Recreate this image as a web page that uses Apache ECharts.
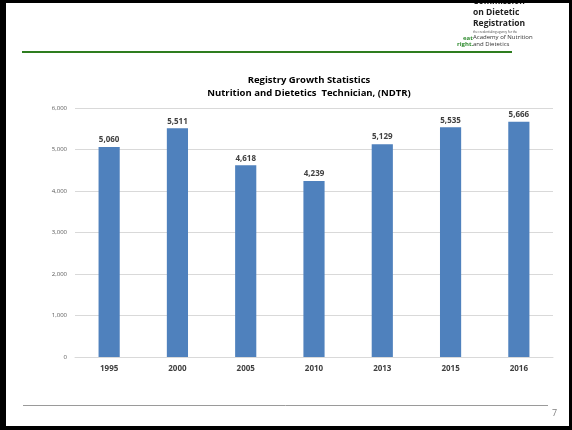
<!DOCTYPE html>
<html><head><meta charset="utf-8">
<style>html,body{margin:0;padding:0;background:#fff;}#c{width:572px;height:430px;}</style>
<script src="https://cdn.jsdelivr.net/npm/echarts@6/dist/echarts.min.js"></script>
</head><body><div id="c"></div>
<script>
const categories = ['1995','2000','2005','2010','2013','2015','2016'];
const registrants = [5060, 5511, 4618, 4239, 5129, 5535, 5666];
const yTicks = [0, 1000, 2000, 3000, 4000, 5000, 6000];
const titleLines = ['Registry Growth Statistics', 'Nutrition and Dietetics  Technician, (NDTR)'];
const pageNumber = '7';

const chart = echarts.init(document.getElementById('c'));
const F = '"Open Sans", Lato, sans-serif';
chart.setOption({
  animation: false,
  backgroundColor: '#fff',
  title: {
    text: titleLines.join('\n'),
    left: 304, top: 69, textAlign: 'center',
    textStyle: {fontFamily: F, fontWeight: 'bold', fontSize: 9.5, color: '#000', lineHeight: 13}
  },
  grid: {left: 75, right: 19, top: 108, bottom: 73},
  xAxis: {
    type: 'category', data: categories,
    axisLine: {lineStyle: {color: '#d9d9d9', width: 1}},
    axisTick: {show: false},
    axisLabel: {fontFamily: F, fontWeight: 'bold', fontSize: 8, color: '#404040', margin: 8}
  },
  yAxis: {
    type: 'value', min: yTicks[0], max: yTicks[yTicks.length-1], interval: 1000,
    axisLine: {show: false}, axisTick: {show: false},
    splitLine: {lineStyle: {color: '#d9d9d9', width: 1}},
    axisLabel: {fontFamily: F, fontSize: 6, color: '#595959', margin: 8,
      formatter: v => v.toLocaleString('en-US')}
  },
  series: [{
    type: 'bar', data: registrants, barWidth: '31%',
    itemStyle: {color: '#4f81bd'},
    label: {show: true, position: 'top', distance: 3, fontFamily: F, fontWeight: 'bold', fontSize: 8, color: '#404040',
      formatter: p => p.value.toLocaleString('en-US')}
  }],
  graphic: [
    {type: 'text', left: 473, top: -3, style: {text: 'Commission', font: 'bold 8.5px ' + F, fill: '#222'}},
    {type: 'text', left: 473, top: 8, style: {text: 'on Dietetic', font: 'bold 8.5px ' + F, fill: '#222'}},
    {type: 'text', left: 473, top: 19, style: {text: 'Registration', font: 'bold 8.5px ' + F, fill: '#222'}},
    {type: 'text', left: 473, top: 31, style: {text: 'the credentialing agency for the', font: '3px ' + F, fill: '#444'}},
    {type: 'text', left: 473, top: 34, style: {text: 'Academy of Nutrition', font: '6px ' + F, fill: '#333'}},
    {type: 'text', left: 473, top: 41, style: {text: 'and Dietetics', font: '6px ' + F, fill: '#333'}},
    {type: 'text', left: 463, top: 35, style: {text: 'eat', font: 'bold 6px ' + F, fill: '#2e8b2e'}},
    {type: 'text', left: 457, top: 41, style: {text: 'right.', font: 'bold 6px ' + F, fill: '#2e8b2e'}},
    {type: 'rect', shape: {x: 0, y: 0, width: 572, height: 3}, style: {fill: '#000'}},
    {type: 'rect', shape: {x: 0, y: 0, width: 6, height: 430}, style: {fill: '#000'}},
    {type: 'rect', shape: {x: 569, y: 0, width: 3, height: 430}, style: {fill: '#000'}},
    {type: 'rect', shape: {x: 0, y: 426, width: 572, height: 4}, style: {fill: '#000'}},
    {type: 'line', shape: {x1: 22, y1: 52, x2: 512, y2: 52}, style: {stroke: '#2e7d1f', lineWidth: 2}},
    {type: 'line', shape: {x1: 23, y1: 405.5, x2: 548, y2: 405.5}, style: {stroke: '#9a9a9a', lineWidth: 1}},
    {type: 'text', left: 552, top: 409, style: {text: pageNumber, font: '9px ' + F, fill: '#7f7f7f'}}
  ]
});
</script></body></html>
